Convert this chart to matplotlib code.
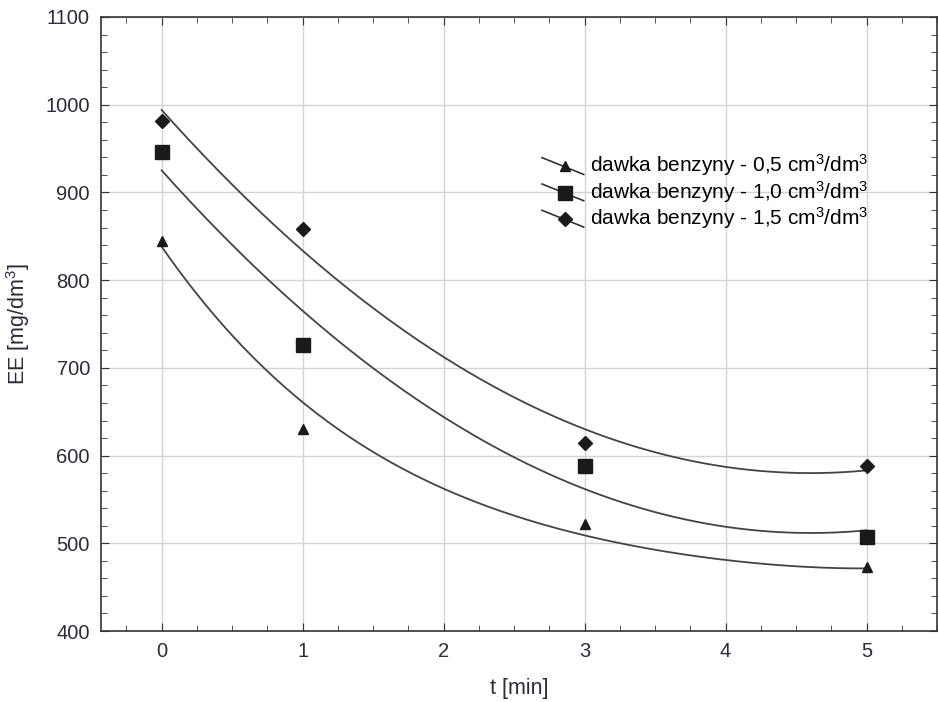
import numpy as np
import matplotlib.pyplot as plt
from matplotlib.lines import Line2D
from matplotlib.legend_handler import HandlerLine2D
from matplotlib.ticker import MultipleLocator

plt.rcParams['font.family'] = ['Liberation Sans', 'DejaVu Sans']
plt.rcParams['mathtext.fontset'] = 'custom'
plt.rcParams['mathtext.rm'] = 'Liberation Sans'
plt.rcParams['mathtext.it'] = 'Liberation Sans'

# punkty pomiarowe
t = [0, 1, 3, 5]
ee_05 = [845, 630, 522, 473]
ee_10 = [946, 726, 588, 507]
ee_15 = [981, 858, 614, 588]

# krzywa dopasowania dla 0,5 (nie jest to zwykly wielomian 2 st.)
fit_t = [0, 0.5, 1, 1.5, 2, 2.5, 3, 3.5, 4, 4.5, 5]
fit_05 = [837, 740, 660, 603, 561, 532, 511, 493, 480, 473, 472]

labels = ["dawka benzyny - 0,5 cm$^3$/dm$^3$",
          "dawka benzyny - 1,0 cm$^3$/dm$^3$",
          "dawka benzyny - 1,5 cm$^3$/dm$^3$"]
markers = ["^", "s", "D"]
msizes = [7.5, 9.5, 7]


# linia w legendzie pochylona jak w oryginale
class SlantHandler(HandlerLine2D):
    def create_artists(self, legend, orig_handle, xdescent, ydescent,
                       width, height, fontsize, trans):
        ln = Line2D([-xdescent, -xdescent + width],
                    [-ydescent + height * 1.0, -ydescent - height * 0.15],
                    color="#333333", lw=1.2, transform=trans)
        mk = Line2D([-xdescent + width * 0.55], [-ydescent + height * 0.4],
                    marker=orig_handle.get_marker(), ls="none",
                    ms=orig_handle.get_markersize(), color="#1a1a1a",
                    transform=trans)
        return [ln, mk]


fig = plt.figure(figsize=(9.38, 7.02), dpi=100)
ax = fig.add_axes([0.1077, 0.1011, 0.8913, 0.8747])

tt = np.linspace(0, 5, 200)
handles = []
for ys, m, ms, lab in zip([ee_05, ee_10, ee_15], markers, msizes, labels):
    if ys is ee_05:
        # wygladzenie odczytanej krzywej
        coef = np.polyfit(fit_t, fit_05, 4)
    else:
        coef = np.polyfit(t, ys, 2)
    ax.plot(tt, np.polyval(coef, tt), color="#444444", lw=1.3, zorder=2)
    ax.plot(t, ys, ls="none", marker=m, ms=ms, color="#1a1a1a", zorder=3)
    handles.append(Line2D([], [], marker=m, ms=ms, ls="none", label=lab))

ax.set_xlim(-0.43, 5.5)
ax.set_ylim(400, 1100)
ax.xaxis.set_major_locator(MultipleLocator(1))
ax.xaxis.set_minor_locator(MultipleLocator(0.25))
ax.yaxis.set_major_locator(MultipleLocator(100))
ax.yaxis.set_minor_locator(MultipleLocator(20))
ax.tick_params(which="both", direction="in", top=True, right=True,
               colors="#333333", labelcolor="#2b2b3a", labelsize=14.5)
ax.tick_params(which="major", length=6, pad=8)
ax.tick_params(which="minor", length=4)
ax.grid(True, which="major", color="#d4d4d4", lw=1)
ax.set_axisbelow(True)
for s in ax.spines.values():
    s.set_color("#333333")
    s.set_linewidth(1.2)

ax.set_xlabel("t [min]", fontsize=15.5, color="#2b2b3a", labelpad=12)
ax.set_ylabel("EE [mg/dm$^3$]", fontsize=15.5, color="#2b2b3a", labelpad=10)

ax.legend(handles=handles, loc="upper left", bbox_to_anchor=(0.51, 0.803),
          frameon=False, fontsize=15, handlelength=2.0, handletextpad=0.3,
          labelspacing=0.02, borderpad=0.2,
          handler_map={Line2D: SlantHandler()})

fig.savefig("out.png", dpi=100)
